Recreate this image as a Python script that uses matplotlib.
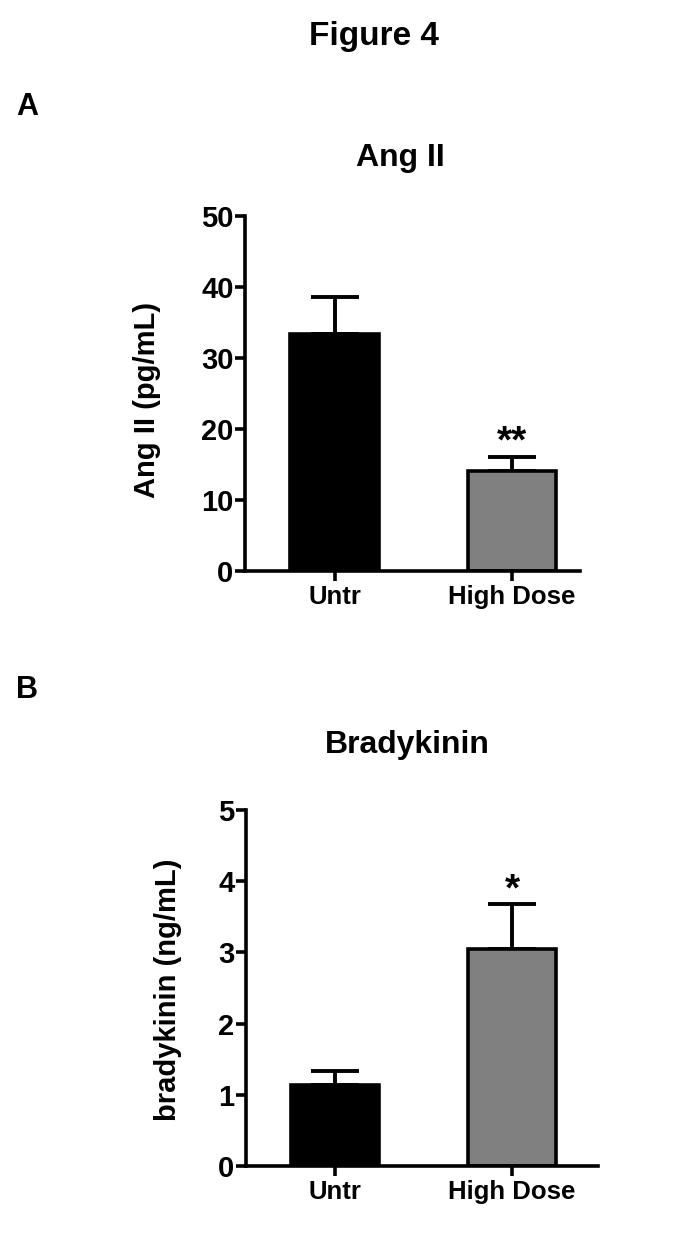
import matplotlib
matplotlib.use("Agg")
import matplotlib.pyplot as plt

groups = ["Untr", "High Dose"]
ang_mean = [33.4, 14.1]
ang_sem = [5.2, 2.0]
brady_mean = [1.14, 3.05]
brady_sem = [0.19, 0.63]
bar_colors = ["#000000", "#808080"]

plt.rcParams['font.family'] = ['Liberation Sans', 'DejaVu Sans']
plt.rcParams['font.weight'] = 'bold'

W, H = 693, 1245
fig = plt.figure(figsize=(W/100, H/100), dpi=100)

LW = 2.6

def panel(rect, means, sems, ymax, ystep, ylabel, ylab_xy, stars, xright):
    ax = fig.add_axes(rect)
    x = list(range(len(groups)))
    ax.bar(x, means, width=0.5, color=bar_colors, edgecolor="black", linewidth=LW, zorder=2)
    ax.errorbar(x, means, yerr=[[0]*len(means), sems], fmt="none", ecolor="black",
                elinewidth=2.8, capsize=17, capthick=2.8, zorder=1)
    ax.set_xlim(-0.505, xright)
    ax.set_ylim(0, ymax)
    ax.set_yticks([i*ystep for i in range(int(round(ymax/ystep))+1)])
    ax.set_xticks(x)
    ax.set_xticklabels(groups, fontsize=18.5, fontweight='bold')
    for lab in ax.get_yticklabels():
        lab.set_fontsize(21); lab.set_fontweight('bold')
    for s in ["top", "right"]:
        ax.spines[s].set_visible(False)
    for s in ["left", "bottom"]:
        ax.spines[s].set_linewidth(LW)
    ax.tick_params(width=LW, length=7.2)
    ax.tick_params(axis='y', pad=1)
    ax.tick_params(axis='x', pad=3)
    ax.set_ylabel(ylabel, fontsize=21, fontweight='bold')
    ax.yaxis.set_label_coords(*ylab_xy)
    ax.yaxis.label.set_va('center')
    for xi, (m, e, st) in enumerate(zip(means, sems, stars)):
        if st:
            ax.text(xi, m + e - ymax*0.012, st, ha="center", va="bottom",
                    fontsize=28, fontweight='bold')
    return ax

ax1 = panel([245/W, 1-571/H, 335/W, 355/H], ang_mean, ang_sem, 50, 10,
            "Ang II (pg/mL)", (-0.2925, 0.482), ["", "**"], 1.384)
ax2 = panel([246/W, 1-1166/H, 352/W, 356/H], brady_mean, brady_sem, 5, 1,
            "bradykinin (ng/mL)", (-0.2216, 0.494), ["", "*"], 1.486)

fig.text(374/W, 1-37/H, "Figure 4", ha="center", va="center", fontsize=24, fontweight='bold')
fig.text(27/W, 1-107/H, "A", ha="center", va="center", fontsize=22, fontweight='bold')
fig.text(400/W, 1-158/H, "Ang II", ha="center", va="center", fontsize=23, fontweight='bold')
fig.text(27/W, 1-690/H, "B", ha="center", va="center", fontsize=22, fontweight='bold')
fig.text(407/W, 1-745/H, "Bradykinin", ha="center", va="center", fontsize=23, fontweight='bold')

fig.savefig("out.png", dpi=100)
